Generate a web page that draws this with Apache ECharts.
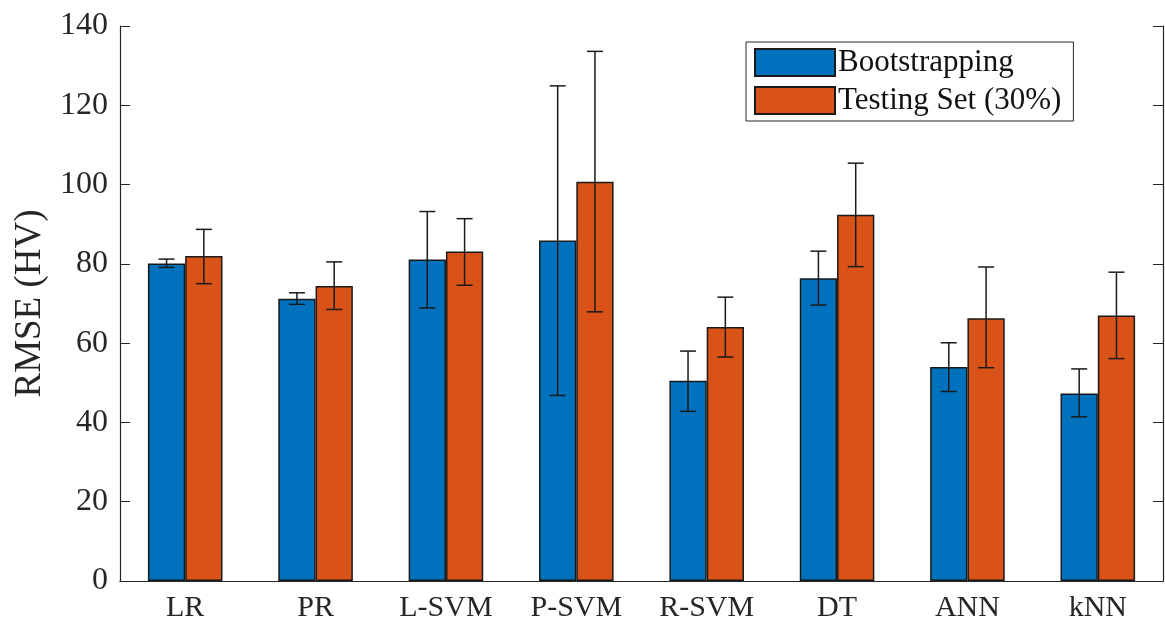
<!DOCTYPE html>
<html>
<head>
<meta charset="utf-8">
<script src="https://cdn.jsdelivr.net/npm/echarts@6/dist/echarts.min.js"></script>
<style>
html,body{margin:0;padding:0;background:#fff;}
#chart{width:1165px;height:623px;}
</style>
</head>
<body>
<div id="chart"></div>
<script>
var categories = ['LR','PR','L-SVM','P-SVM','R-SVM','DT','ANN','kNN'];
var bootMean  = [80.1, 71.2, 81.1, 85.9, 50.5, 76.4, 54.0, 47.3];
var bootLow   = [79.1, 69.8, 68.9, 46.8, 42.8, 69.6, 47.8, 41.4];
var bootHigh  = [81.2, 72.7, 93.2, 124.9, 58.0, 83.2, 60.1, 53.5];
var testMean  = [82.0, 74.4, 83.1, 100.7, 64.1, 92.4, 66.3, 67.0];
var testLow   = [75.0, 68.5, 74.6, 67.9, 56.5, 79.3, 53.8, 56.1];
var testHigh  = [88.7, 80.5, 91.4, 133.6, 71.6, 105.4, 79.2, 77.9];
var yTicks = [0,20,40,60,80,100,120,140];

var FONT = '"Liberation Serif", "DejaVu Serif", serif';
var AX = '#262626';
var BAR_FRAC = 0.286;

function errRender(offsetSign){
  return function(params, api){
    var xi = api.value(0), hi = api.value(1), lo = api.value(2);
    var band = api.size([1,0])[0];
    var off = offsetSign * band * BAR_FRAC / 2;
    var pt = api.coord([xi, hi]);
    var pb = api.coord([xi, lo]);
    var x = pt[0] + off;
    var cap = 8;
    var st = {stroke:'#1a1a1a', lineWidth:1.5};
    return {type:'group', children:[
      {type:'line', shape:{x1:x,y1:pt[1],x2:x,y2:pb[1]}, style:st},
      {type:'line', shape:{x1:x-cap,y1:pt[1],x2:x+cap,y2:pt[1]}, style:st},
      {type:'line', shape:{x1:x-cap,y1:pb[1],x2:x+cap,y2:pb[1]}, style:st}
    ]};
  };
}
function errData(low, high){
  return categories.map(function(c,i){ return [i, high[i], low[i]]; });
}

var chart = echarts.init(document.getElementById('chart'), null, {renderer:'canvas'});
chart.setOption({
  animation:false,
  backgroundColor:'#fff',
  textStyle:{fontFamily:FONT},
  grid:{left:120, right:2, top:26, bottom:42, containLabel:false},
  legend:{
    data:['Bootstrapping','Testing Set (30%)'],
    orient:'vertical', left:746, top:42,
    itemWidth:80, itemHeight:27, itemGap:7,
    padding:[5,12,5,8],
    borderColor:'#262626', borderWidth:1, backgroundColor:'#fff',
    textStyle:{fontFamily:FONT, fontSize:31, color:'#111', padding:[0,0,0,-2]},
    icon:'rect'
  },
  xAxis:[{
    type:'category', data:categories, position:'bottom',
    axisLine:{lineStyle:{color:AX, width:1.2}},
    axisTick:{inside:true, alignWithLabel:true, length:10, lineStyle:{color:AX}},
    axisLabel:{fontFamily:FONT, fontSize:30, color:AX, margin:12}
  },{
    type:'category', data:categories, position:'top',
    axisLine:{lineStyle:{color:AX, width:1.2}},
    axisTick:{inside:true, alignWithLabel:true, length:10, lineStyle:{color:AX}},
    axisLabel:{show:false}
  }],
  yAxis:[{
    type:'value', min:0, max:140, interval:20, position:'left',
    name:'RMSE (HV)', nameLocation:'middle', nameGap:70, nameRotate:90,
    nameTextStyle:{fontFamily:FONT, fontSize:37, color:AX},
    axisLine:{show:true, lineStyle:{color:AX, width:1.2}},
    axisTick:{show:true, inside:true, length:10, lineStyle:{color:AX}},
    axisLabel:{fontFamily:FONT, fontSize:32, color:AX, margin:12,
      formatter:function(v){ return yTicks.indexOf(v)>=0 ? String(v) : ''; }},
    splitLine:{show:false}
  },{
    type:'value', min:0, max:140, interval:20, position:'right',
    axisLine:{show:true, lineStyle:{color:AX, width:1.2}},
    axisTick:{show:true, inside:true, length:10, lineStyle:{color:AX}},
    axisLabel:{show:false}, splitLine:{show:false}
  }],
  series:[{
    name:'Bootstrapping', type:'bar', data:bootMean,
    barWidth:(BAR_FRAC*100)+'%', barGap:'0%',
    itemStyle:{color:'#0072BD', borderColor:'#1a1a1a', borderWidth:1.5}
  },{
    name:'Testing Set (30%)', type:'bar', data:testMean,
    barWidth:(BAR_FRAC*100)+'%', barGap:'0%',
    itemStyle:{color:'#D95319', borderColor:'#1a1a1a', borderWidth:1.5}
  },{
    type:'custom', renderItem:errRender(-1), data:errData(bootLow, bootHigh),
    z:5, silent:true, encode:{x:0, y:[1,2]}
  },{
    type:'custom', renderItem:errRender(1), data:errData(testLow, testHigh),
    z:5, silent:true, encode:{x:0, y:[1,2]}
  }]
});
</script>
</body>
</html>
